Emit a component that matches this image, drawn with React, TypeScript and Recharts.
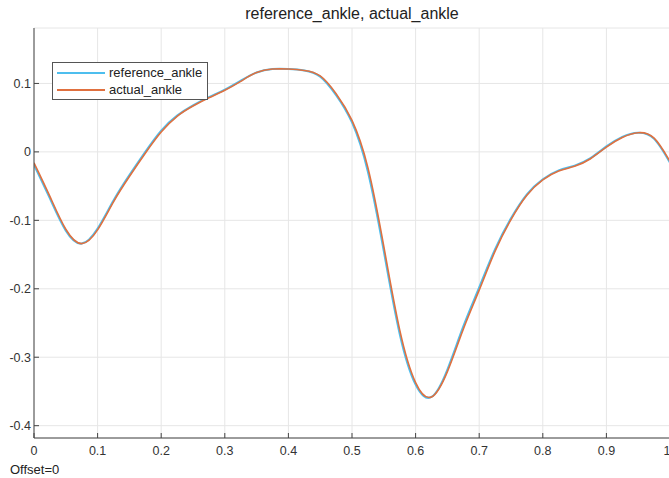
import React from 'react';
import { LineChart, Line, XAxis, YAxis, CartesianGrid, Legend } from 'recharts';

// sample times (normalised) and the two ankle traces
const time = [
  0, 0.025, 0.05, 0.075, 0.1, 0.125, 0.15, 0.175, 0.2, 0.225,
  0.25, 0.275, 0.3, 0.325, 0.35, 0.375, 0.4, 0.425, 0.45, 0.475,
  0.5, 0.525, 0.55, 0.575, 0.6, 0.625, 0.65, 0.675, 0.7, 0.725,
  0.75, 0.775, 0.8, 0.825, 0.85, 0.875, 0.9, 0.925, 0.95, 0.975, 1,
];
const referenceAnkle = [
  -0.019, -0.068, -0.115, -0.134, -0.112, -0.071, -0.034, 0.0, 0.031, 0.053,
  0.068, 0.08, 0.091, 0.104, 0.116, 0.121, 0.121, 0.119, 0.11, 0.083,
  0.043, -0.029, -0.145, -0.266, -0.34, -0.358, -0.318, -0.255, -0.198, -0.142,
  -0.097, -0.062, -0.04, -0.027, -0.02, -0.009, 0.008, 0.022, 0.028, 0.019, -0.016,
];
const actualAnkle = [
  -0.016, -0.065, -0.113, -0.134, -0.114, -0.073, -0.036, -0.002, 0.029, 0.052,
  0.067, 0.079, 0.09, 0.103, 0.116, 0.121, 0.121, 0.119, 0.111, 0.085,
  0.046, -0.023, -0.138, -0.26, -0.337, -0.358, -0.321, -0.259, -0.202, -0.145,
  -0.099, -0.0635, -0.041, -0.028, -0.021, -0.01, 0.007, 0.021, 0.028, 0.02, -0.014,
];
const xTicks = [0, 0.1, 0.2, 0.3, 0.4, 0.5, 0.6, 0.7, 0.8, 0.9, 1];
const yTicks = [-0.4, -0.3, -0.2, -0.1, 0, 0.1];
const seriesOrder = ['reference_ankle', 'actual_ankle'];

const data = time.map((t, i) => ({ t, reference_ankle: referenceAnkle[i], actual_ankle: actualAnkle[i] }));

const axisColor = '#444';
const font = '"Liberation Sans", Arial, sans-serif';

function LegendBox({ payload }: any) {
  const items = [...(payload || [])].sort((a: any, b: any) => seriesOrder.indexOf(a.value) - seriesOrder.indexOf(b.value));
  return (
    <div style={{ border: '1px solid #555', background: '#fff', padding: '1px 0', width: 154, fontFamily: font, fontSize: 13, color: '#222' }}>
      {items.map((p: any) => (
        <div key={p.value} style={{ display: 'flex', alignItems: 'center', height: 17 }}>
          <span style={{ display: 'inline-block', width: 48, height: 2, background: p.color, marginLeft: 4, marginRight: 4 }} />
          <span>{p.value}</span>
        </div>
      ))}
    </div>
  );
}

export default function App() {
  return (
    <div style={{ position: 'absolute', left: 0, top: 0, width: 669, height: 478, overflow: 'hidden', background: '#fff' }}>
      <div style={{ position: 'absolute', top: 5, left: 0, width: 704, textAlign: 'center', fontFamily: font, fontSize: 16, color: '#222' }}>
        reference_ankle, actual_ankle
      </div>
      <LineChart width={670} height={478} data={data} margin={{ top: 28, right: 0, left: 0, bottom: 0 }} style={{ fontFamily: font }}>
        <CartesianGrid stroke="#e6e6e6" />
        <XAxis dataKey="t" type="number" domain={[0, 1]} ticks={xTicks} allowDataOverflow height={40}
          stroke={axisColor} tickSize={-5} tickMargin={13} tick={{ fontSize: 12.5, fill: '#333' }} />
        <XAxis xAxisId="top" orientation="top" dataKey="t" type="number" domain={[0, 1]} ticks={xTicks} allowDataOverflow height={0}
          stroke={axisColor} tickSize={-5} tick={false} />
        <YAxis type="number" domain={[-0.418, 0.181]} ticks={yTicks} allowDataOverflow width={34}
          stroke={axisColor} tickSize={-5} tickMargin={8} tick={{ fontSize: 12.5, fill: '#333' }} />
        <YAxis yAxisId="right" orientation="right" type="number" domain={[-0.418, 0.181]} ticks={yTicks} allowDataOverflow width={0}
          stroke={axisColor} tickSize={-5} tick={false} />
        <Legend content={<LegendBox />} layout="horizontal" verticalAlign="middle" align="center"
          wrapperStyle={{ position: 'absolute', left: 52, top: 62, width: 'auto' }} />
        <Line type="natural" dataKey="reference_ankle" stroke="#4DBEEE" strokeWidth={2} dot={false} isAnimationActive={false} />
        <Line type="natural" dataKey="actual_ankle" stroke="#E0703F" strokeWidth={1.6} dot={false} isAnimationActive={false} />
      </LineChart>
      <div style={{ position: 'absolute', left: 10, top: 462, fontFamily: font, fontSize: 13, color: '#222' }}>Offset=0</div>
    </div>
  );
}
